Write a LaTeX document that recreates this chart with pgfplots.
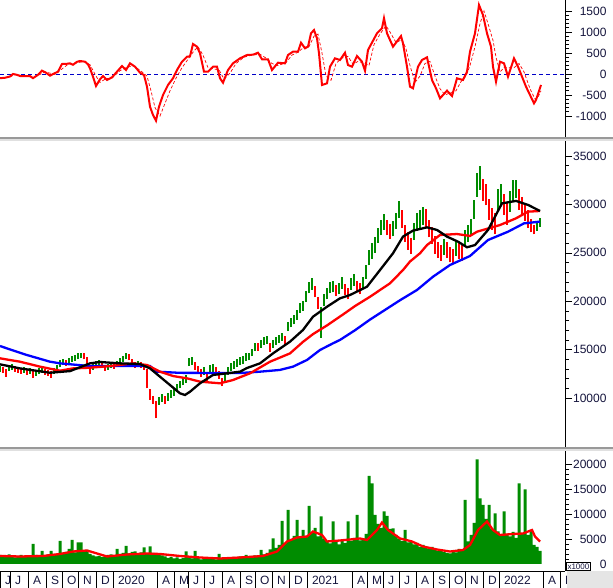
\documentclass[border=0pt]{standalone}
\usepackage{pgfplots}
\usepackage{pgfplotstable}
\pgfplotsset{compat=1.18}
\usepackage{fontspec}
\setmainfont{Liberation Sans}
\definecolor{cgreen}{RGB}{0,140,0}
\definecolor{cred}{RGB}{255,0,0}
\definecolor{cblue}{RGB}{0,0,255}
\definecolor{labc}{RGB}{20,20,60}
\definecolor{zeroblue}{RGB}{0,0,200}

\pgfplotstableread{
x lo hi
0 12700 13300
9 12800 13400
12 12900 13500
24 12600 13200
30 12500 13100
36 12300 12900
39 12500 13100
42 12600 13200
54 12500 13100
57 12800 13400
60 13200 13900
63 13400 14000
69 13500 14100
72 13700 14300
75 13800 14400
78 14000 14600
81 14100 14700
93 12900 13500
96 13200 13800
99 13300 13900
108 12900 13500
111 13100 13700
117 13200 13800
120 13500 14100
123 13700 14300
126 14000 14700
138 13200 13800
159 9300 10100
162 9600 10400
168 9700 10500
171 10000 10800
174 10200 11000
177 10600 11400
180 11000 11800
183 11300 12100
186 11600 12400
189 13300 14100
192 13400 14200
204 12400 13200
210 12600 13400
213 12700 13500
225 11800 12600
228 12400 13200
231 12800 13600
234 13000 13800
237 13200 14000
240 13400 14200
243 13500 14300
246 13800 14600
249 13900 14700
252 14300 15100
255 14900 15700
261 15200 16000
264 15500 16300
267 15600 16400
273 15200 16000
276 15500 16300
279 15700 16500
282 15900 16700
288 16900 17900
291 17300 18300
294 17600 18600
297 18100 19100
300 18800 19800
303 19000 20000
306 19900 21100
309 20800 22000
312 21200 22400
321 16200 19400
324 19500 20700
327 20200 21400
330 20800 22000
333 20900 22100
339 20700 21900
342 21300 22500
351 21200 22400
354 21600 22800
363 21300 22500
366 22300 23700
369 23700 25300
372 24400 26000
375 25000 26600
378 26000 27600
381 26800 28400
384 27400 29000
393 26700 28300
396 27500 29100
399 28600 30300
414 26300 28100
417 27300 29100
420 27600 29400
423 27900 29700
444 24800 26400
456 24700 26300
465 25600 27400
468 26100 27900
471 26700 28500
474 28500 30500
477 30800 33200
480 31500 34000
498 29400 31600
501 29900 32100
510 29200 31400
513 30400 32500
516 30700 32500
537 27300 28300
540 27700 28600
}\greencandles

\pgfplotstableread{
x lo hi
3 12600 13200
6 12200 13000
15 12700 13300
18 12600 13200
21 12500 13100
27 12400 13000
33 12100 12800
45 12400 13000
48 12300 12900
51 12100 12800
66 13300 13900
84 14000 14600
87 13400 14200
90 12500 13400
102 13100 13700
105 12800 13400
114 13000 13600
129 13900 14500
132 13300 14000
135 13100 13700
141 13100 13700
144 12900 13500
147 11000 13000
150 9800 10900
153 9400 10200
156 7900 9700
165 9400 10200
195 12900 13700
198 12500 13300
201 12200 13000
207 11800 12600
216 12400 13200
219 12000 12800
222 11200 12100
258 14900 15700
270 14800 15700
285 15600 16400
315 20400 21600
318 19200 20400
336 20500 21700
345 20600 21800
348 20200 21400
357 20900 22100
360 20700 21900
387 26800 28400
390 26400 28000
402 27600 29400
405 26100 27900
408 25300 27100
411 24900 26500
426 27700 29500
429 26600 28400
432 25900 27700
435 24900 26700
438 24500 26100
441 24200 25800
447 24500 26100
450 24000 25600
453 23900 25400
459 24400 26000
462 24200 25800
483 30400 32600
486 29900 32100
489 28400 30600
492 27400 29600
495 26900 29100
504 28900 31100
507 27900 30100
519 29400 31600
522 28800 30800
525 28300 30100
528 27600 29400
531 27100 28500
534 26900 27900
}\redcandles

\pgfplotstableread{
x v
0 1800
3 1400
6 1700
9 1900
12 1500
15 1300
18 1600
21 1800
24 1500
27 1400
30 1700
33 4000
36 1800
39 1600
42 2600
45 1700
48 1900
51 2600
54 2000
57 1900
60 4600
63 2200
66 2400
69 3000
72 4800
75 2300
78 4300
81 4300
84 2600
87 2800
90 2000
93 1700
96 1500
99 1600
102 1400
105 1500
108 1800
111 1900
114 1700
117 3000
120 2000
123 2200
126 3600
129 2100
132 2400
135 2500
138 1900
141 2300
144 3300
147 2000
150 3500
153 2200
156 1800
159 2000
162 1700
165 1500
168 1200
171 1400
174 1100
177 1300
180 1000
183 1200
186 2500
189 1300
192 1100
195 2600
198 1200
201 900
204 1300
207 1100
210 1000
213 1200
216 900
219 2000
222 1100
225 1300
228 1000
231 1200
234 1400
237 1200
240 1500
243 1300
246 1800
249 1400
252 1600
255 1700
258 1500
261 2800
264 1900
267 2200
270 2900
273 5100
276 3200
279 3800
282 8600
285 4200
288 10800
291 4800
294 5600
297 8800
300 5200
303 6800
306 5400
309 11600
312 6200
315 7200
318 5500
321 9500
324 5000
327 4600
330 4100
333 8500
336 4400
339 3900
342 4800
345 4200
348 8500
351 4600
354 5200
357 9800
360 4700
363 5000
366 6000
369 17600
372 16100
375 9800
378 8000
381 7200
384 10500
387 9600
390 7000
393 7100
396 5800
399 5000
402 4600
405 6800
408 4300
411 4500
414 3900
417 4200
420 3400
423 3800
426 3200
429 3000
432 3400
435 2800
438 2600
441 2900
444 2400
447 2200
450 2100
453 2500
456 2300
459 3000
462 2600
465 12800
468 4500
471 5800
474 8200
477 20900
480 13100
483 11800
486 9000
489 11800
492 7000
495 10100
498 6500
501 5800
504 10500
507 6000
510 5500
513 6400
516 5200
519 16100
522 6100
525 14900
528 5800
531 6800
534 3800
537 3400
540 2600
}\volume

\pgfplotsset{
  panel/.style={
    anchor=south west, scale only axis, width=565pt,
    xmin=0, xmax=565,
    axis x line=none, axis y line=right,
    axis line style={black, line width=0.8pt, -},
    tick align=outside, major tick length=7pt, minor tick length=4pt,
    every tick/.style={black, line width=0.6pt},
    scaled y ticks=false,
    minor y tick num=4,
    yticklabel style={font=\fontsize{12}{14}\selectfont, text=labc, anchor=east, xshift=38pt},
    /pgf/number format/1000 sep={},
    /pgf/number format/assume math mode=true,
  }
}

\begin{document}
\begin{tikzpicture}
\path[use as bounding box] (0pt,0pt) rectangle (613pt,588pt);

% ---------- top panel: oscillator ----------
\begin{axis}[panel, at={(0pt,451pt)}, height=137pt,
  ymin=-1500, ymax=1762, ytick={-1000,-500,0,500,1000,1500}]
\addplot[zeroblue, line width=0.9pt, dash pattern=on 4pt off 3pt] coordinates {(0,0) (565,0)};
\addplot[cred, line width=0.7pt, dash pattern=on 3pt off 2pt] coordinates {
(0,-90) (8,-80) (16,-10) (24,-45) (34,-80) (45,50) (55,-10) (62,120) (68,230) (76,260)
(84,300) (90,220) (96,-50) (100,-200) (106,-110) (112,-100) (120,80) (126,150) (133,200)
(140,90) (147,-50) (151,-400) (155,-800) (160,-1000) (165,-700) (170,-400) (176,-100)
(182,150) (188,350) (194,550) (198,650) (203,450) (208,150) (214,120) (219,100) (224,-120)
(230,20) (236,250) (244,400) (252,450) (260,470) (266,380) (272,250) (278,200) (286,270)
(292,450) (298,520) (304,640) (309,650) (314,900) (318,950) (322,500) (326,-50) (331,-150)
(336,250) (342,380) (348,420) (353,230) (358,300) (364,260) (369,200) (374,700) (380,950)
(386,1150) (390,1000) (396,750) (402,820) (406,600) (410,200) (415,-200) (420,-50) (425,250)
(430,300) (435,-50) (440,-350) (445,-500) (450,-450) (456,-400) (461,-180) (466,-50)
(470,200) (475,650) (480,1200) (484,1500) (488,1200) (493,800) (496,400) (500,50) (504,150)
(509,150) (514,150) (519,250) (524,50) (530,-350) (535,-600) (538,-550) (541,-400)};
\addplot[cred, line width=2pt] coordinates {
(0,-100) (5,-90) (10,-60) (13,0) (17,-20) (20,-48) (25,-50) (30,-48) (33,-100) (38,-20)
(42,80) (46,30) (50,-40) (54,10) (58,55) (62,238) (66,240) (70,254) (73,220) (77,290)
(80,309) (85,293) (88,230) (90,135) (93,-63) (96,-286) (100,-127) (103,-48) (107,-143)
(112,-79) (117,55) (122,190) (126,95) (130,254) (135,174) (140,31) (144,-24) (147,-302)
(150,-778) (153,-976) (156,-1111) (159,-778) (163,-500) (168,-262) (173,-103) (177,95)
(182,293) (187,412) (190,420) (193,714) (197,650) (200,493) (204,55) (208,55) (213,174)
(217,174) (220,-103) (223,-207) (228,95) (233,254) (240,373) (247,452) (253,460) (258,507)
(262,350) (268,350) (272,95) (278,269) (285,254) (288,452) (293,531) (298,531) (301,745)
(305,612) (308,650) (311,969) (314,1047) (317,850) (319,493) (322,-262) (327,-222) (330,174)
(335,373) (340,333) (345,507) (348,214) (352,174) (357,428) (362,293) (365,79) (368,571)
(377,969) (382,1088) (384,1326) (387,969) (393,650) (398,809) (401,904) (403,730) (407,174)
(410,-302) (413,-341) (418,174) (422,333) (427,397) (432,-143) (436,-341) (440,-579)
(447,-397) (452,-524) (457,-103) (463,-143) (467,55) (470,531) (475,969) (479,1643)
(483,1405) (487,969) (491,650) (493,174) (496,-183) (500,293) (504,254) (508,-63) (514,373)
(518,174) (526,-302) (534,-698) (536,-619) (541,-262)};
\end{axis}

% ---------- middle panel: price ----------
\begin{axis}[panel, at={(0pt,141pt)}, height=306pt,
  ymin=4940, ymax=36550, ytick={10000,15000,20000,25000,30000,35000}]
\addplot[draw=none, mark=none, forget plot,
  error bars/.cd, y dir=plus, y explicit, error mark=none,
  error bar style={draw=cgreen, line width=2.5pt}]
  table[x=x, y=lo, y error plus expr=\thisrow{hi}-\thisrow{lo}] {\greencandles};
\addplot[draw=none, mark=none, forget plot,
  error bars/.cd, y dir=plus, y explicit, error mark=none,
  error bar style={draw=cred, line width=2.5pt}]
  table[x=x, y=lo, y error plus expr=\thisrow{hi}-\thisrow{lo}] {\redcandles};
% long MA (blue)
\addplot[cblue, line width=2.3pt] coordinates {
(0,15370) (25,14500) (50,13750) (60,13580) (90,13300) (150,13300) (157,12720) (180,12600)
(240,12580) (260,12720) (280,12900) (293,13240) (307,13930) (320,14960) (333,15650)
(340,16000) (355,17000) (370,18100) (385,19100) (400,20100) (417,21160) (433,22530)
(450,23740) (470,24670) (488,26320) (508,27180) (524,28040) (540,28220)};
% mid MA (red)
\addplot[cred, line width=2.3pt] coordinates {
(0,14100) (20,13750) (40,13240) (60,12820) (73,13060) (90,13130) (110,13300) (133,13580)
(147,13410) (160,12720) (173,12270) (187,12030) (200,11690) (220,11520) (233,11860)
(250,12550) (270,13750) (290,14610) (303,15800) (313,16600) (327,17500) (344,18700)
(355,19500) (370,20460) (390,21850) (403,23220) (410,24100) (420,24950) (427,25800)
(440,26840) (457,26940) (470,26740) (477,27180) (500,27870) (516,28560) (528,29250) (540,29320)};
% short MA (black)
\addplot[black, line width=2.3pt] coordinates {
(0,13480) (20,13060) (50,12610) (70,12780) (90,13580) (100,13720) (120,13580) (140,13510)
(150,13060) (160,12200) (170,11340) (180,10480) (185,10310) (190,10650) (200,11520)
(213,12380) (227,12550) (240,12720) (247,13100) (260,13580) (273,14610) (290,15820)
(303,17030) (313,18400) (327,19430) (340,20300) (350,20640) (367,21500) (380,23220)
(393,24950) (403,26670) (413,27290) (427,27630) (437,27360) (447,26670) (458,26150)
(467,25570) (475,25800) (488,27360) (502,30110) (516,30360) (528,29950) (540,29320)};
\end{axis}

% ---------- bottom panel: volume ----------
\begin{axis}[panel, at={(0pt,17pt)}, height=120pt,
  ymin=-1400, ymax=22600, ytick={0,5000,10000,15000,20000}]
\addplot[ybar, bar width=3pt, fill=cgreen, draw=none] table[x=x, y=v] {\volume};
\addplot[cred, line width=2.3pt] coordinates {
(0,1600) (20,1500) (43,1600) (60,2000) (73,2500) (87,2700) (97,2100) (107,1500) (127,1900)
(147,2100) (160,2000) (180,1600) (200,1300) (220,1100) (240,1300) (263,1600) (277,2500)
(287,4500) (297,5300) (307,5500) (313,6500) (322,5800) (327,4500) (340,4700) (350,4900)
(360,5100) (367,4800) (377,6800) (382,8300) (388,6800) (400,5100) (412,4500) (423,3500)
(437,2900) (450,2500) (463,2800) (470,3800) (478,6800) (487,8500) (493,6800) (500,5800)
(513,6000) (523,6100) (532,6800) (535,5500) (540,4500)};
\end{axis}

% ---------- month strip ----------
\begin{axis}[anchor=south west, at={(0pt,0pt)}, scale only axis, width=565pt, height=17pt,
  xmin=0, xmax=565, ymin=0, ymax=1,
  axis line style={draw=none}, ytick=\empty, major tick length=0pt,
  xtick={0,10,28,46,62,78,96,113,157,174,188,204,222,240,255,272,289,307,352,367,383,399,416,433,449,465,483,499,543,560},
  xticklabels={J,J,A,S,O,N,D,2020,A,M,J,J,A,S,O,N,D,2021,A,M,J,J,A,S,O,N,D,2022,A,M},
  xmajorgrids, grid style={black, line width=0.8pt},
  xticklabel style={font=\fontsize{12}{14}\selectfont, text=labc, anchor=south west, xshift=1.5pt, yshift=0pt}]
\addplot[draw=none] coordinates {(0,0) (565,1)};
\end{axis}

% ---------- frame decorations ----------
\fill[black!40] (0pt,449pt) rectangle (613pt,451pt);
\fill[black!12] (0pt,447pt) rectangle (613pt,449pt);
\fill[black!40] (0pt,139pt) rectangle (613pt,141pt);
\fill[black!12] (0pt,137pt) rectangle (613pt,139pt);
\draw[black, line width=0.8pt] (0pt,17pt) -- (565pt,17pt);
\fill[black!10] (566.5pt,0pt) rectangle (613pt,16.5pt);
\node[draw=black, fill=white, anchor=south west, inner sep=1.2pt, line width=0.6pt,
  font=\fontsize{8}{9}\selectfont, text=labc] at (566pt,17pt) {x1000};
\end{tikzpicture}
\end{document}
